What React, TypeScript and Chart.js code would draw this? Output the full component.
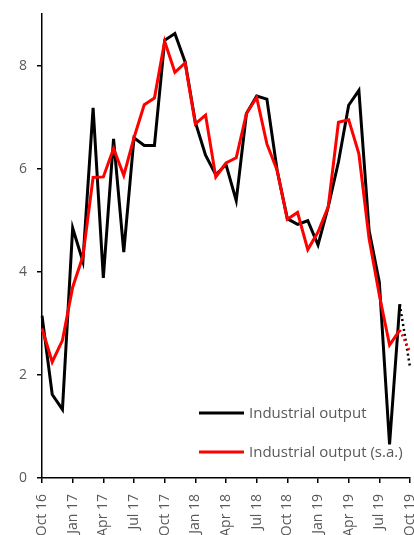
import React, { useEffect, useRef } from "react";
import { Chart, registerables } from "chart.js";

Chart.register(...registerables);

const months = [
  "Oct 16", "Nov 16", "Dec 16",
  "Jan 17", "Feb 17", "Mar 17", "Apr 17", "May 17", "Jun 17", "Jul 17", "Aug 17", "Sep 17", "Oct 17", "Nov 17", "Dec 17",
  "Jan 18", "Feb 18", "Mar 18", "Apr 18", "May 18", "Jun 18", "Jul 18", "Aug 18", "Sep 18", "Oct 18", "Nov 18", "Dec 18",
  "Jan 19", "Feb 19", "Mar 19", "Apr 19", "May 19", "Jun 19", "Jul 19", "Aug 19", "Sep 19", "Oct 19",
];

const industrialOutput = [
  3.15, 1.62, 1.33,
  4.85, 4.2, 7.18, 3.88, 6.58, 4.38, 6.6, 6.45, 6.45, 8.49, 8.62, 8.07,
  6.9, 6.26, 5.88, 6.08, 5.38, 7.07, 7.41, 7.35, 5.97, 5.03, 4.92, 4.99,
  4.52, 5.26, 6.13, 7.23, 7.52, 4.8, 3.8, 0.65, 3.37, null,
];

const industrialOutputSA = [
  2.9, 2.25, 2.67,
  3.7, 4.3, 5.83, 5.84, 6.39, 5.87, 6.6, 7.24, 7.37, 8.47, 7.87, 8.05,
  6.87, 7.04, 5.84, 6.11, 6.21, 7.07, 7.38, 6.48, 5.97, 5.02, 5.15, 4.43,
  4.77, 5.26, 6.9, 6.95, 6.29, 4.64, 3.55, 2.58, 2.87, null,
];

// dotted projection from Sep 19 to Oct 19
const projectionOutput = [...Array(35).fill(null), 3.37, 2.15];
const projectionOutputSA = [...Array(35).fill(null), 2.87, 2.45];

const yTicks = [0, 2, 4, 6, 8];

const CANVAS_W = 414;
const CANVAS_H = 545;

const legendPlugin = {
  id: "insideLegend",
  afterDatasetsDraw(chart: any, _args: any, opts: any) {
    const ctx = chart.ctx;
    const items = opts.items || [];
    ctx.save();
    ctx.font = "15px 'Open Sans'";
    ctx.textBaseline = "middle";
    ctx.textAlign = "left";
    items.forEach((it: any, i: number) => {
      const y = opts.y + i * opts.spacing;
      ctx.strokeStyle = it.color;
      ctx.lineWidth = 3;
      ctx.lineCap = "butt";
      ctx.beginPath();
      ctx.moveTo(opts.x, y);
      ctx.lineTo(opts.x + opts.lineLen, y);
      ctx.stroke();
      ctx.fillStyle = "#595959";
      ctx.fillText(it.label, opts.x + opts.lineLen + 5, y + 1);
    });
    ctx.restore();
  },
};

export default function App() {
  const ref = useRef<HTMLCanvasElement | null>(null);

  useEffect(() => {
    if (!ref.current) return;
    Chart.defaults.font.family = "'Open Sans'";
    const chart = new Chart(ref.current, {
      type: "line",
      data: {
        labels: months,
        datasets: [
          {
            label: "Industrial output (s.a.)",
            data: industrialOutputSA,
            borderColor: "#ff0000",
            borderWidth: 3,
            pointRadius: 0,
            tension: 0,
            order: 1,
          },
          {
            label: "Industrial output",
            data: industrialOutput,
            borderColor: "#000000",
            borderWidth: 3,
            pointRadius: 0,
            tension: 0,
            order: 2,
          },
          {
            label: "proj s.a.",
            data: projectionOutputSA,
            borderColor: "#ff0000",
            borderWidth: 2.5,
            borderDash: [2, 3],
            pointRadius: 0,
            order: 3,
          },
          {
            label: "proj",
            data: projectionOutput,
            borderColor: "#000000",
            borderWidth: 2.5,
            borderDash: [2, 3],
            pointRadius: 0,
            order: 4,
          },
        ],
      },
      options: {
        animation: false,
        responsive: false,
        layout: { padding: { top: 14, right: 4, left: 0, bottom: 0 } },
        plugins: {
          legend: { display: false },
          tooltip: { enabled: false },
          insideLegend: {
            x: 199,
            y: 413,
            spacing: 39,
            lineLen: 45,
            items: [
              { label: "Industrial output", color: "#000000" },
              { label: "Industrial output (s.a.)", color: "#ff0000" },
            ],
          },
        } as any,
        scales: {
          x: {
            type: "category",
            offset: false,
            grid: {
              display: true,
              drawOnChartArea: false,
              drawTicks: true,
              tickLength: 5,
              lineWidth: 1.5,
              color: (c: any) => (c.index % 3 === 0 ? "#000" : "rgba(0,0,0,0)"),
            },
            border: { display: true, color: "#000", width: 1.5 },
            ticks: {
              autoSkip: false,
              minRotation: 90,
              maxRotation: 90,
              padding: 11,
              color: "#595959",
              font: { size: 14 },
              callback: function (this: any, value: any, index: number) {
                return index % 3 === 0 ? months[index] : "";
              },
            },
            afterFit: (s: any) => {
              s.paddingLeft = 0;
              s.paddingRight = 0;
              s.height = CANVAS_H - 478;
            },
          },
          y: {
            min: 0,
            max: 9,
            grid: {
              display: true,
              drawOnChartArea: false,
              drawTicks: true,
              tickLength: 5,
              lineWidth: 1.5,
              color: "#000",
            },
            border: { display: true, color: "#000", width: 1.5 },
            afterBuildTicks: (s: any) => {
              s.ticks = yTicks.map((v) => ({ value: v }));
            },
            ticks: {
              padding: 10,
              color: "#595959",
              font: { size: 14 },
            },
            afterFit: (s: any) => {
              s.paddingTop = 0;
              s.paddingBottom = 0;
              s.width = 42;
            },
          },
        },
      },
      plugins: [legendPlugin],
    });
    return () => chart.destroy();
  }, []);

  return (
    <div
      style={{
        position: "fixed",
        left: 0,
        top: 0,
        width: 414,
        height: 535,
        overflow: "hidden",
        background: "#fff",
      }}
    >
      <canvas
        ref={ref}
        width={CANVAS_W}
        height={CANVAS_H}
        style={{ width: CANVAS_W, height: CANVAS_H, display: "block" }}
      />
    </div>
  );
}
